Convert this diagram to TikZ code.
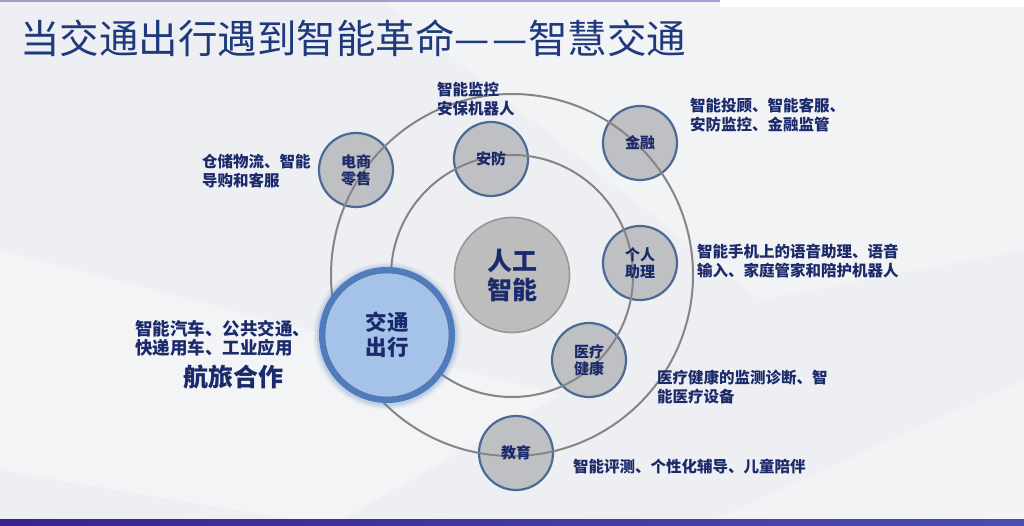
\documentclass[tikz,border=0pt]{standalone}
\usepackage{fontspec}
\newfontfamily\cjk{Noto Sans CJK SC}
\usetikzlibrary{positioning}
\definecolor{knavy}{HTML}{1B2A6B}
\definecolor{ktitle}{HTML}{1F3A7C}
\definecolor{kring}{HTML}{858585}
\definecolor{kdisc}{HTML}{BFC0C3}
\definecolor{kedge}{HTML}{4B6A96}
\definecolor{kcore}{HTML}{BDBDBD}
\definecolor{kcoreedge}{HTML}{979797}
\definecolor{klight}{HTML}{A5C2E8}
\definecolor{kblue}{HTML}{4E7CBD}
\definecolor{kbg}{HTML}{EEEFF2}
\definecolor{kbar}{HTML}{3B2390}
\definecolor{kbarend}{HTML}{4A4DB4}
\tikzset{
  disc/.style={circle, fill=kdisc, draw=kedge, line width=2.2pt,
    minimum size=74pt, inner sep=0pt},
  disctext/.style={align=center, text=knavy, inner sep=0pt,
    font=\cjk\bfseries\fontsize{15}{17}\selectfont},
  note/.style={align=left, anchor=west, text=knavy, inner sep=0pt,
    font=\cjk\bfseries\fontsize{15.5}{19}\selectfont},
  ring/.style={draw=kring, line width=2pt},
}

\begin{document}
\begin{tikzpicture}[x=1pt, y=-1pt]

  %% background
  \fill[kbg] (0,0) rectangle (1024,526);
  \useasboundingbox (0,0) rectangle (1024,526);
  \fill[white, opacity=0.35] (0,470) -- (0,250) -- (560,395) -- (330,526) -- cycle;
  \fill[white, opacity=0.30] (700,526) -- (1024,380) -- (1024,526) -- cycle;
  \fill[white, opacity=0.25] (380,0) -- (1024,0) -- (1024,250) -- (760,300) -- cycle;
  \fill[kbar!45] (0,0) rectangle (720,2.5);
  \fill[white] (720,0) rectangle (1024,7);
  \shade[left color=kbar, right color=kbarend] (0,519) rectangle (1024,526);

  %% title
  \node[anchor=west, text=ktitle, inner sep=0pt,
    font=\cjk\fontsize{39.5}{41}\selectfont] (title) at (20,38)
    {当交通出行遇到智能革命—\kern3pt—智慧交通};

  %% application discs
  \node[disc] (retail) at (356,170) {};
  \node[disc] (secur)  at (491,159) {};
  \node[disc] (fin)    at (640,143) {};
  \node[disc] (assist) at (640,263) {};
  \node[disc] (health) at (589,360) {};
  \node[disc] (edu)    at (516,453) {};

  %% rings
  \draw[ring] (512,275) circle (181pt);
  \draw[ring] (512,276) circle (121pt);

  %% core
  \node[circle, fill=kcore, draw=kcoreedge, line width=1.6pt,
    minimum size=115pt, inner sep=0pt, align=center, text=knavy,
    font=\cjk\bfseries\fontsize{25}{29}\selectfont] (ai) at (512,275)
    {人工\\智能};

  %% transport, highlighted
  \foreach \r/\o in {74/0.06, 72/0.10, 70/0.16} {
    \fill[kblue, opacity=\o] (387,336) circle (\r pt);
  }
  \node[circle, fill=klight, draw=kblue, line width=6pt,
    minimum size=130pt, inner sep=0pt, align=center, text=knavy,
    font=\cjk\bfseries\fontsize{21.5}{25}\selectfont] (traffic) at (387,335)
    {交通\\出行};
  \draw[knavy!70, line width=0.5pt] (traffic) circle (62pt);

  %% disc labels
  \node[disctext] at (retail) {电商\\零售};
  \node[disctext] at (secur)  {安防};
  \node[disctext] at (fin)    {金融};
  \node[disctext] at (assist) {个人\\助理};
  \node[disctext] at (health) {医疗\\健康};
  \node[disctext] at (edu)    {教育};

  %% notes
  \node[note] (nsecur)  at (437,99)    {智能监控\\安保机器人};
  \node[note] (nfin)    at (690,115)   {智能投顾、智能客服、\\安防监控、金融监管};
  \node[note] (nassist) at (697,261.5) {智能手机上的语音助理、语音\\输入、家庭管家和陪护机器人};
  \node[note] (nhealth) at (657,387.5) {医疗健康的监测诊断、智\\能医疗设备};
  \node[note] (nedu)    at (573,467)   {智能评测、个性化辅导、儿童陪伴};
  \node[note] (nretail) at (202,171.5) {仓储物流、智能\\导购和客服};
  \node[note, font=\cjk\bfseries\fontsize{17.5}{19.5}\selectfont] (ntraffic)
    at (135,338.5) {智能汽车、公共交通、\\快递用车、工业应用};
  \node[text=knavy, inner sep=0pt,
    font=\cjk\bfseries\fontsize{25}{27}\selectfont] (ntravel) at (233,377)
    {航旅合作};

\end{tikzpicture}
\end{document}
